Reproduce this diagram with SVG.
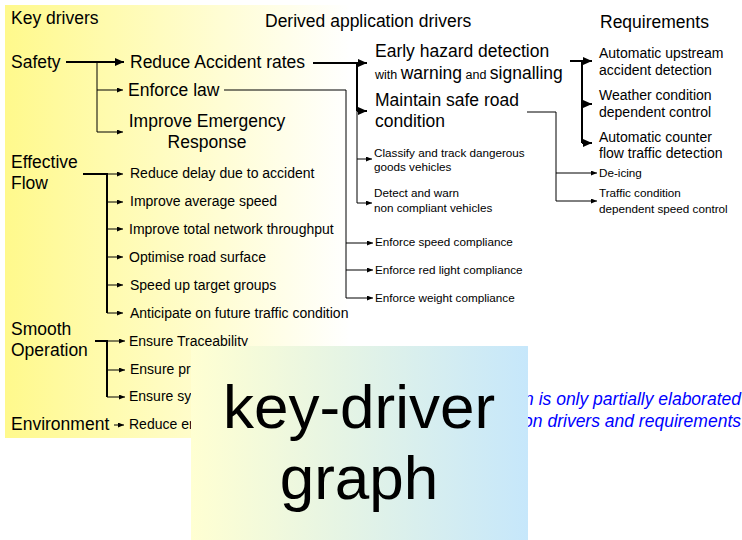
<svg xmlns="http://www.w3.org/2000/svg" width="742" height="540" viewBox="0 0 742 540">
<style>
text{font-family:"Liberation Sans",Arial,sans-serif;fill:#000}
.h{font-size:17.5px}
.m{font-size:14px}
.s{font-size:11.7px}
.w{font-size:12.5px}
.b{font-size:17.5px;font-style:italic;fill:#0000ff}
.big{font-size:62px}
.t{stroke:#000;stroke-width:2;fill:none}
.n{stroke:#000;stroke-width:1;fill:none}
.ab{marker-end:url(#ab)}
.as{marker-end:url(#as)}
</style>
<defs>
<linearGradient id="pg" gradientUnits="userSpaceOnUse" x1="5" y1="0" x2="350" y2="0">
<stop offset="0" stop-color="#fff98c"/>
<stop offset="0.45" stop-color="#fffcc0"/>
<stop offset="1" stop-color="#ffffff"/>
</linearGradient>
<linearGradient id="og" gradientUnits="userSpaceOnUse" x1="191" y1="0" x2="528" y2="0">
<stop offset="0" stop-color="#ffffd2"/>
<stop offset="1" stop-color="#c6e7fb"/>
</linearGradient>
<marker id="ab" markerUnits="userSpaceOnUse" markerWidth="9" markerHeight="8" refX="9" refY="4" orient="auto">
<path d="M0,0 L9,4 L0,8 z" fill="#000"/>
</marker>
<marker id="as" markerUnits="userSpaceOnUse" markerWidth="6" markerHeight="5" refX="6" refY="2.5" orient="auto">
<path d="M0,0 L6,2.5 L0,5 z" fill="#000"/>
</marker>
</defs>
<rect x="0" y="0" width="742" height="540" fill="#fff"/>
<rect id="panel" x="5" y="5" width="737" height="433" fill="url(#pg)"/>

<g id="headers">
<text class="h" x="11" y="24">Key drivers</text>
<text class="h" x="265" y="27">Derived application drivers</text>
<text class="h" x="600" y="28">Requirements</text>
</g>

<g id="connectors">
<path class="t ab" d="M66,62 H124"/>
<path class="n" d="M97,62 V132" stroke-width="1.5"/>
<path class="n as" d="M97,90 H123"/>
<path class="n as" d="M97,132 H123"/>

<path class="t ab" d="M313,63 H367"/>
<path class="t" d="M357,63 V111"/>
<path class="t ab" d="M357,111 H367"/>
<path class="n as" d="M357,111 V203 H372"/>
<path class="n as" d="M357,159 H372"/>

<path class="n as" d="M224,90 H346 V298 H373"/>
<path class="n as" d="M346,243 H373"/>
<path class="n as" d="M346,270 H373"/>

<path class="n as" d="M527,112 H556 V201 H597"/>
<path class="n as" d="M556,173 H597"/>

<path class="t ab" d="M570,61 H592"/>
<path class="t" d="M582,61 V143"/>
<path class="t ab" d="M582,104 H592"/>
<path class="t ab" d="M582,143 H592"/>

<path class="t" d="M83,174 H107 V313"/>
<path class="n as" d="M107,174 H123"/>
<path class="n as" d="M107,202 H123"/>
<path class="n as" d="M107,229 H123"/>
<path class="n as" d="M107,257 H123"/>
<path class="n as" d="M107,285 H123"/>
<path class="n as" d="M107,313 H123"/>

<path class="t" d="M95,341 H107 V397"/>
<path class="n as" d="M107,341 H125"/>
<path class="n as" d="M107,370 H125"/>
<path class="n as" d="M107,397 H125"/>

<path class="n as" d="M114,425 H124"/>
</g>

<g id="safety"><text class="h" x="11" y="68">Safety</text></g>
<g id="reduce-accident"><text class="h" x="130" y="68">Reduce Accident rates</text></g>
<g id="enforce-law"><text class="h" x="128" y="96">Enforce law</text></g>
<g id="improve-emergency"><text class="h" text-anchor="middle"><tspan x="207" y="127">Improve Emergency</tspan><tspan x="207" y="148">Response</tspan></text></g>

<g id="early-hazard"><text class="h" x="375" y="57">Early hazard detection</text>
<text class="h" x="375" y="79"><tspan class="w">with </tspan>warning<tspan class="w"> and </tspan>signalling</text></g>
<g id="maintain-road"><text class="h"><tspan x="375" y="106">Maintain safe road</tspan><tspan x="375" y="127">condition</tspan></text></g>
<g id="classify"><text class="s"><tspan x="374" y="157">Classify and track dangerous</tspan><tspan x="374" y="171">goods vehicles</tspan></text></g>
<g id="detect-warn"><text class="s"><tspan x="374" y="197">Detect and warn</tspan><tspan x="374" y="212">non compliant vehicles</tspan></text></g>
<g id="enforce-speed"><text class="s" x="375" y="246">Enforce speed compliance</text></g>
<g id="enforce-red"><text class="s" x="375" y="274">Enforce red light compliance</text></g>
<g id="enforce-weight"><text class="s" x="375" y="302">Enforce weight compliance</text></g>

<g id="req-upstream"><text class="m"><tspan x="599" y="58">Automatic upstream</tspan><tspan x="599" y="75">accident detection</tspan></text></g>
<g id="req-weather"><text class="m"><tspan x="599" y="100">Weather condition</tspan><tspan x="599" y="117">dependent control</tspan></text></g>
<g id="req-counter"><text class="m"><tspan x="599" y="142">Automatic counter</tspan><tspan x="599" y="158">flow traffic detection</tspan></text></g>
<g id="req-deicing"><text class="s" x="599" y="177">De-icing</text></g>
<g id="req-traffic"><text class="s"><tspan x="599" y="197">Traffic condition</tspan><tspan x="599" y="213">dependent speed control</tspan></text></g>

<g id="effective-flow"><text class="h"><tspan x="11" y="168">Effective</tspan><tspan x="11" y="189">Flow</tspan></text></g>
<g id="reduce-delay"><text class="m" x="130" y="178">Reduce delay due to accident</text></g>
<g id="avg-speed"><text class="m" x="130" y="206">Improve average speed</text></g>
<g id="throughput"><text class="m" x="129" y="234">Improve total network throughput</text></g>
<g id="road-surface"><text class="m" x="129" y="262">Optimise road surface</text></g>
<g id="target-groups"><text class="m" x="130" y="290">Speed up target groups</text></g>
<g id="anticipate"><text class="m" x="130" y="318">Anticipate on future traffic condition</text></g>

<g id="smooth-operation"><text class="h"><tspan x="11" y="335">Smooth</tspan><tspan x="11" y="356">Operation</tspan></text></g>
<g id="traceability"><text class="m" x="129" y="346">Ensure Traceability</text></g>
<g id="ensure-pr"><text class="m" x="130" y="374">Ensure pr</text></g>
<g id="ensure-sy"><text class="m" x="129" y="401">Ensure sy</text></g>
<g id="environment"><text class="h" x="11" y="430">Environment</text></g>
<g id="reduce-en"><text class="m" x="129" y="429">Reduce en</text></g>

<g id="note">
<text class="b" text-anchor="end" x="741" y="405">n is only partially elaborated</text>
<text class="b" text-anchor="end" x="741" y="427">on drivers and requirements</text>
</g>

<g id="title">
<rect x="191" y="346" width="337" height="194" fill="url(#og)"/>
<text class="big" text-anchor="middle" x="359" y="428">key-driver</text>
<text class="big" text-anchor="middle" x="359" y="499">graph</text>
</g>
</svg>
